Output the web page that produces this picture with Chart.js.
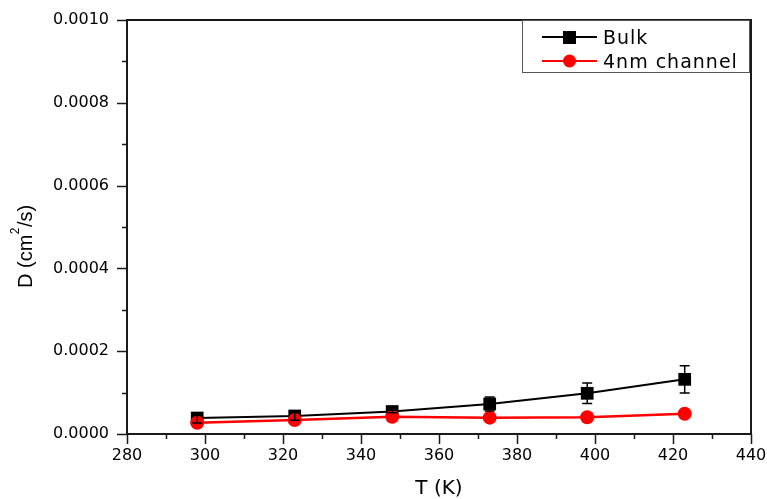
<!DOCTYPE html>
<html><head><meta charset="utf-8">
<script src="https://cdn.jsdelivr.net/npm/chart.js@4"></script>
<style>html,body{margin:0;padding:0;background:#fff;} #wrap{width:767px;height:499px;}</style>
</head><body><div id="wrap"><canvas id="c" width="767" height="499"></canvas></div>
<script>
// ---- data ----
const temperatures = [298, 323, 348, 373, 398, 423];
const bulkD = [0.0000386, 0.0000435, 0.0000543, 0.0000725, 0.0000983, 0.000132];
const bulkErr = [0.000012, 0.00001, 0.000003, 0.000017, 0.0000246, 0.000033];
const channelD = [0.0000273, 0.0000338, 0.0000418, 0.0000395, 0.0000403, 0.000049];
const seriesNames = ['Bulk', '4nm channel'];
const xTickValues = [280, 300, 320, 340, 360, 380, 400, 420, 440];
const yTickValues = [0, 0.0002, 0.0004, 0.0006, 0.0008, 0.001];
const xTitle = 'T (K)';
const yTitleParts = ['D (cm', '2', '/s)'];

const tickFont = '"DejaVu Sans", sans-serif';
const axisColor = '#1a1a1a';

function zeroPad(s) { s.paddingTop = 0; s.paddingBottom = 0; s.paddingLeft = 0; s.paddingRight = 0; }

const decorPlugin = {
  id: 'decor',
  afterDatasetsDraw(chart) {
    const ctx = chart.ctx, xs = chart.scales.x, ys = chart.scales.y;
    ctx.save();
    ctx.strokeStyle = '#000';
    ctx.lineWidth = 1.5;
    temperatures.forEach((t, i) => {
      const px = xs.getPixelForValue(t);
      const top = ys.getPixelForValue(bulkD[i] + bulkErr[i]);
      const bot = ys.getPixelForValue(bulkD[i] - bulkErr[i]);
      ctx.beginPath();
      ctx.moveTo(px, top); ctx.lineTo(px, bot);
      ctx.moveTo(px - 5, top); ctx.lineTo(px + 5, top);
      ctx.moveTo(px - 5, bot); ctx.lineTo(px + 5, bot);
      ctx.stroke();
    });
    ctx.restore();
  },
  afterDraw(chart) {
    const ctx = chart.ctx, xs = chart.scales.x, ys = chart.scales.y, a = chart.chartArea;
    ctx.save();
    ctx.strokeStyle = axisColor;
    ctx.lineWidth = 2;
    ctx.beginPath();
    ctx.moveTo(a.left, a.top); ctx.lineTo(a.right, a.top); ctx.lineTo(a.right, a.bottom);
    ctx.stroke();
    ctx.lineWidth = 1.5;
    ctx.beginPath();
    for (let v = 280; v <= 440; v += 10) {
      const px = Math.round(xs.getPixelForValue(v)) + 0.5;
      const len = (v % 20 === 0) ? 10 : 5;
      ctx.moveTo(px, a.bottom); ctx.lineTo(px, a.bottom + len);
    }
    for (let k = 0; k <= 10; k++) {
      const py = Math.round(ys.getPixelForValue(k * 0.0001)) + 0.5;
      const len = (k % 2 === 0) ? 10 : 5;
      ctx.moveTo(a.left, py); ctx.lineTo(a.left - len, py);
    }
    ctx.stroke();
    ctx.fillStyle = '#000';
    ctx.font = '20px ' + tickFont;
    ctx.textAlign = 'center';
    ctx.textBaseline = 'alphabetic';
    ctx.fillText(xTitle, (a.left + a.right) / 2, 494);
    ctx.translate(31.5, 288);
    ctx.rotate(-Math.PI / 2);
    ctx.textAlign = 'left';
    ctx.font = '20px "Liberation Sans", Arial, sans-serif';
    ctx.fillText(yTitleParts[0], 0, 0);
    let w = ctx.measureText(yTitleParts[0]).width;
    ctx.font = '12px "Liberation Sans", Arial, sans-serif';
    ctx.fillText(yTitleParts[1], w + 0.5, -13);
    w += ctx.measureText(yTitleParts[1]).width + 1;
    ctx.font = '20px "Liberation Sans", Arial, sans-serif';
    ctx.fillText(yTitleParts[2], w, 0);
    ctx.restore();

    ctx.save();
    ctx.strokeStyle = '#555';
    ctx.lineWidth = 1;
    ctx.strokeRect(522.5, 20.5, 227, 52);
    const rows = [37, 61];
    chart.data.datasets.forEach((ds, i) => {
      const y = rows[i];
      ctx.strokeStyle = ds.borderColor;
      ctx.lineWidth = 2;
      ctx.beginPath(); ctx.moveTo(542, y); ctx.lineTo(597, y); ctx.stroke();
      ctx.fillStyle = ds.backgroundColor;
      if (ds.pointStyle === 'rect') {
        ctx.fillRect(563, y - 6, 13, 13);
      } else {
        ctx.beginPath(); ctx.arc(569.5, y, 6.5, 0, Math.PI * 2); ctx.fill();
      }
      ctx.fillStyle = '#000';
      ctx.font = '19px ' + tickFont;
      if ('letterSpacing' in ctx) ctx.letterSpacing = '1px';
      ctx.textAlign = 'left';
      ctx.textBaseline = 'alphabetic';
      ctx.fillText(ds.label, 603, y + 6.5);
      if ('letterSpacing' in ctx) ctx.letterSpacing = '0px';
    });
    ctx.restore();
  }
};

new Chart(document.getElementById('c'), {
  type: 'line',
  data: {
    datasets: [
      {
        label: seriesNames[0],
        data: temperatures.map((t, i) => ({x: t, y: bulkD[i]})),
        borderColor: '#000000', backgroundColor: '#000000',
        borderWidth: 2, pointStyle: 'rect', pointRadius: 9,
        pointBorderWidth: 0, tension: 0, order: 2
      },
      {
        label: seriesNames[1],
        data: temperatures.map((t, i) => ({x: t, y: channelD[i]})),
        borderColor: '#ff0000', backgroundColor: '#ff0000',
        borderWidth: 2.5, pointStyle: 'circle', pointRadius: 7,
        pointBorderWidth: 0, tension: 0, order: 1
      }
    ]
  },
  options: {
    responsive: false,
    animation: false,
    devicePixelRatio: 1,
    layout: {padding: {top: 20, right: 16, left: 0, bottom: 0}},
    plugins: {legend: {display: false}, tooltip: {enabled: false}},
    scales: {
      x: {
        type: 'linear', min: 280, max: 440,
        afterBuildTicks: s => { s.ticks = xTickValues.map(v => ({value: v})); },
        afterFit: s => { s.height = 65; zeroPad(s); },
        grid: {display: false, drawTicks: false},
        border: {display: true, width: 2, color: axisColor},
        ticks: {font: {family: tickFont, size: 16}, color: '#000', padding: 12, maxRotation: 0}
      },
      y: {
        type: 'linear', min: 0, max: 0.001,
        afterBuildTicks: s => { s.ticks = yTickValues.map(v => ({value: v})); },
        afterFit: s => { s.width = 127; zeroPad(s); },
        grid: {display: false, drawTicks: false},
        border: {display: true, width: 2, color: axisColor},
        ticks: {font: {family: tickFont, size: 16}, color: '#000', padding: 18,
                callback: v => Number(v).toFixed(4)}
      }
    }
  },
  plugins: [decorPlugin]
});
</script>
</body></html>
